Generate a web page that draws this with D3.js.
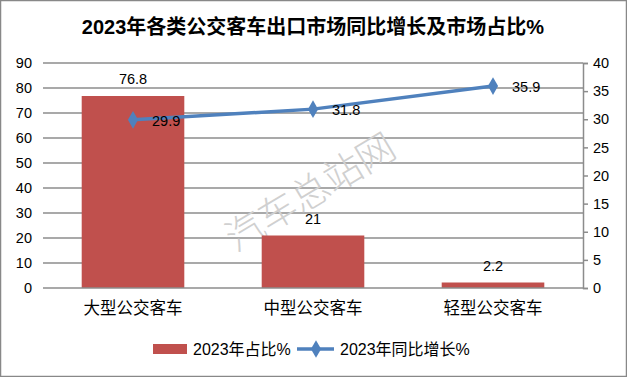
<!DOCTYPE html>
<html>
<head>
<meta charset="utf-8">
<script src="https://cdn.jsdelivr.net/npm/d3@7"></script>
<style>
  body { margin: 0; background: #fff; }
  text { font-family: "Liberation Sans", "Noto Sans CJK SC", sans-serif; }
</style>
</head>
<body>
<div id="chart"></div>
<script>
// data
const categories = ["大型公交客车", "中型公交客车", "轻型公交客车"];
const shareValues = [76.8, 21, 2.2];      // 2023年占比%
const growthValues = [29.9, 31.8, 35.9];  // 2023年同比增长%
const leftTicks = [0, 10, 20, 30, 40, 50, 60, 70, 80, 90];
const rightTicks = [0, 5, 10, 15, 20, 25, 30, 35, 40];

const width = 627;
const height = 377;
const plot = {left: 43, right: 583, top: 63, bottom: 288};

const svg = d3.select("#chart")
  .append("svg")
  .attr("width", width)
  .attr("height", height);

svg.append("rect")
  .attr("x", 0.5).attr("y", 0.5)
  .attr("width", width - 1).attr("height", height - 1)
  .attr("fill", "#fff")
  .attr("stroke", "#888")
  .attr("stroke-width", 1.5);

// title
svg.append("text")
  .attr("x", 313).attr("y", 34)
  .attr("text-anchor", "middle")
  .attr("font-size", 20)
  .attr("font-weight", "bold")
  .text("2023年各类公交客车出口市场同比增长及市场占比%");

// scales
const x = d3.scaleBand()
  .domain(categories)
  .range([plot.left, plot.right])
  .paddingInner(0.43)
  .paddingOuter(0.215);

const yL = d3.scaleLinear().domain([0, 90]).range([plot.bottom, plot.top]);
const yR = d3.scaleLinear().domain([0, 40]).range([plot.bottom, plot.top]);

// gridlines
svg.append("g")
  .selectAll("line")
  .data(leftTicks.slice(1))
  .join("line")
    .attr("x1", plot.left).attr("x2", plot.right)
    .attr("y1", d => yL(d)).attr("y2", d => yL(d))
    .attr("stroke", "#8c8c8c")
    .attr("stroke-width", 1.5);

// watermark
svg.append("text")
  .attr("transform", "translate(312,195) rotate(-31)")
  .attr("text-anchor", "middle")
  .attr("dominant-baseline", "middle")
  .attr("font-size", 38)
  .attr("font-family", "Noto Sans CJK SC")
  .attr("font-weight", 300)
  .attr("fill", "#d0d0d0")
  .text("汽车总站网");

// left axis labels
svg.append("g")
  .selectAll("text")
  .data(leftTicks)
  .join("text")
    .attr("x", 32)
    .attr("y", d => yL(d))
    .attr("dy", "0.35em")
    .attr("text-anchor", "end")
    .attr("font-size", 14.5)
    .text(d => d);

// right axis
const gR = svg.append("g")
  .attr("transform", `translate(${plot.right},0)`)
  .call(d3.axisRight(yR).tickValues(rightTicks).tickSize(5).tickPadding(5));
gR.select(".domain").attr("stroke", "#8c8c8c").attr("stroke-width", 1.5);
gR.selectAll(".tick line").attr("stroke", "#8c8c8c").attr("stroke-width", 1.5);
gR.selectAll(".tick text")
  .attr("font-size", 14.5)
  .attr("fill", "#000")
  .attr("font-family", "Liberation Sans, sans-serif");

// bars
svg.append("g")
  .selectAll("rect")
  .data(shareValues)
  .join("rect")
    .attr("x", (d, i) => x(categories[i]))
    .attr("width", x.bandwidth())
    .attr("y", d => yL(d))
    .attr("height", d => plot.bottom - yL(d))
    .attr("fill", "#c0504d");

svg.append("g")
  .selectAll("text")
  .data(shareValues)
  .join("text")
    .attr("x", (d, i) => x(categories[i]) + x.bandwidth() / 2)
    .attr("y", d => yL(d) - 12)
    .attr("text-anchor", "middle")
    .attr("font-size", 14.5)
    .text(d => d);

// bottom axis line
svg.append("line")
  .attr("x1", plot.left).attr("x2", plot.right)
  .attr("y1", plot.bottom).attr("y2", plot.bottom)
  .attr("stroke", "#8c8c8c")
  .attr("stroke-width", 1.5);

// category labels
svg.append("g")
  .selectAll("text")
  .data(categories)
  .join("text")
    .attr("x", d => x(d) + x.bandwidth() / 2)
    .attr("y", 314)
    .attr("text-anchor", "middle")
    .attr("font-size", 16.5)
    .attr("font-family", "Noto Sans CJK SC")
    .text(d => d);

// line series
const cx = (i) => x(categories[i]) + x.bandwidth() / 2;
const line = d3.line()
  .x((d, i) => cx(i))
  .y(d => yR(d));

svg.append("path")
  .datum(growthValues)
  .attr("fill", "none")
  .attr("stroke", "#4f81bd")
  .attr("stroke-width", 3.5)
  .attr("stroke-linejoin", "round")
  .attr("d", line);

const diamond = d3.symbol().type(d3.symbolDiamond).size(90);
svg.append("g")
  .selectAll("path")
  .data(growthValues)
  .join("path")
    .attr("transform", (d, i) => `translate(${cx(i)},${yR(d)})`)
    .attr("d", diamond)
    .attr("fill", "#4f81bd");

svg.append("g")
  .selectAll("text")
  .data(growthValues)
  .join("text")
    .attr("x", (d, i) => cx(i) + 19)
    .attr("y", d => yR(d))
    .attr("dy", "0.4em")
    .attr("font-size", 14.5)
    .text(d => d);

// legend
const legend = svg.append("g").attr("transform", "translate(0,349)");
legend.append("rect")
  .attr("x", 153).attr("y", -5)
  .attr("width", 34).attr("height", 10)
  .attr("fill", "#c0504d");
legend.append("text")
  .attr("x", 193).attr("y", 0).attr("dy", "0.35em")
  .attr("font-size", 16)
  .text("2023年占比%");
legend.append("line")
  .attr("x1", 297).attr("x2", 334)
  .attr("y1", 0).attr("y2", 0)
  .attr("stroke", "#4f81bd")
  .attr("stroke-width", 3.5);
legend.append("path")
  .attr("transform", "translate(316,0)")
  .attr("d", diamond)
  .attr("fill", "#4f81bd");
legend.append("text")
  .attr("x", 340).attr("y", 0).attr("dy", "0.35em")
  .attr("font-size", 16)
  .text("2023年同比增长%");
</script>
</body>
</html>
